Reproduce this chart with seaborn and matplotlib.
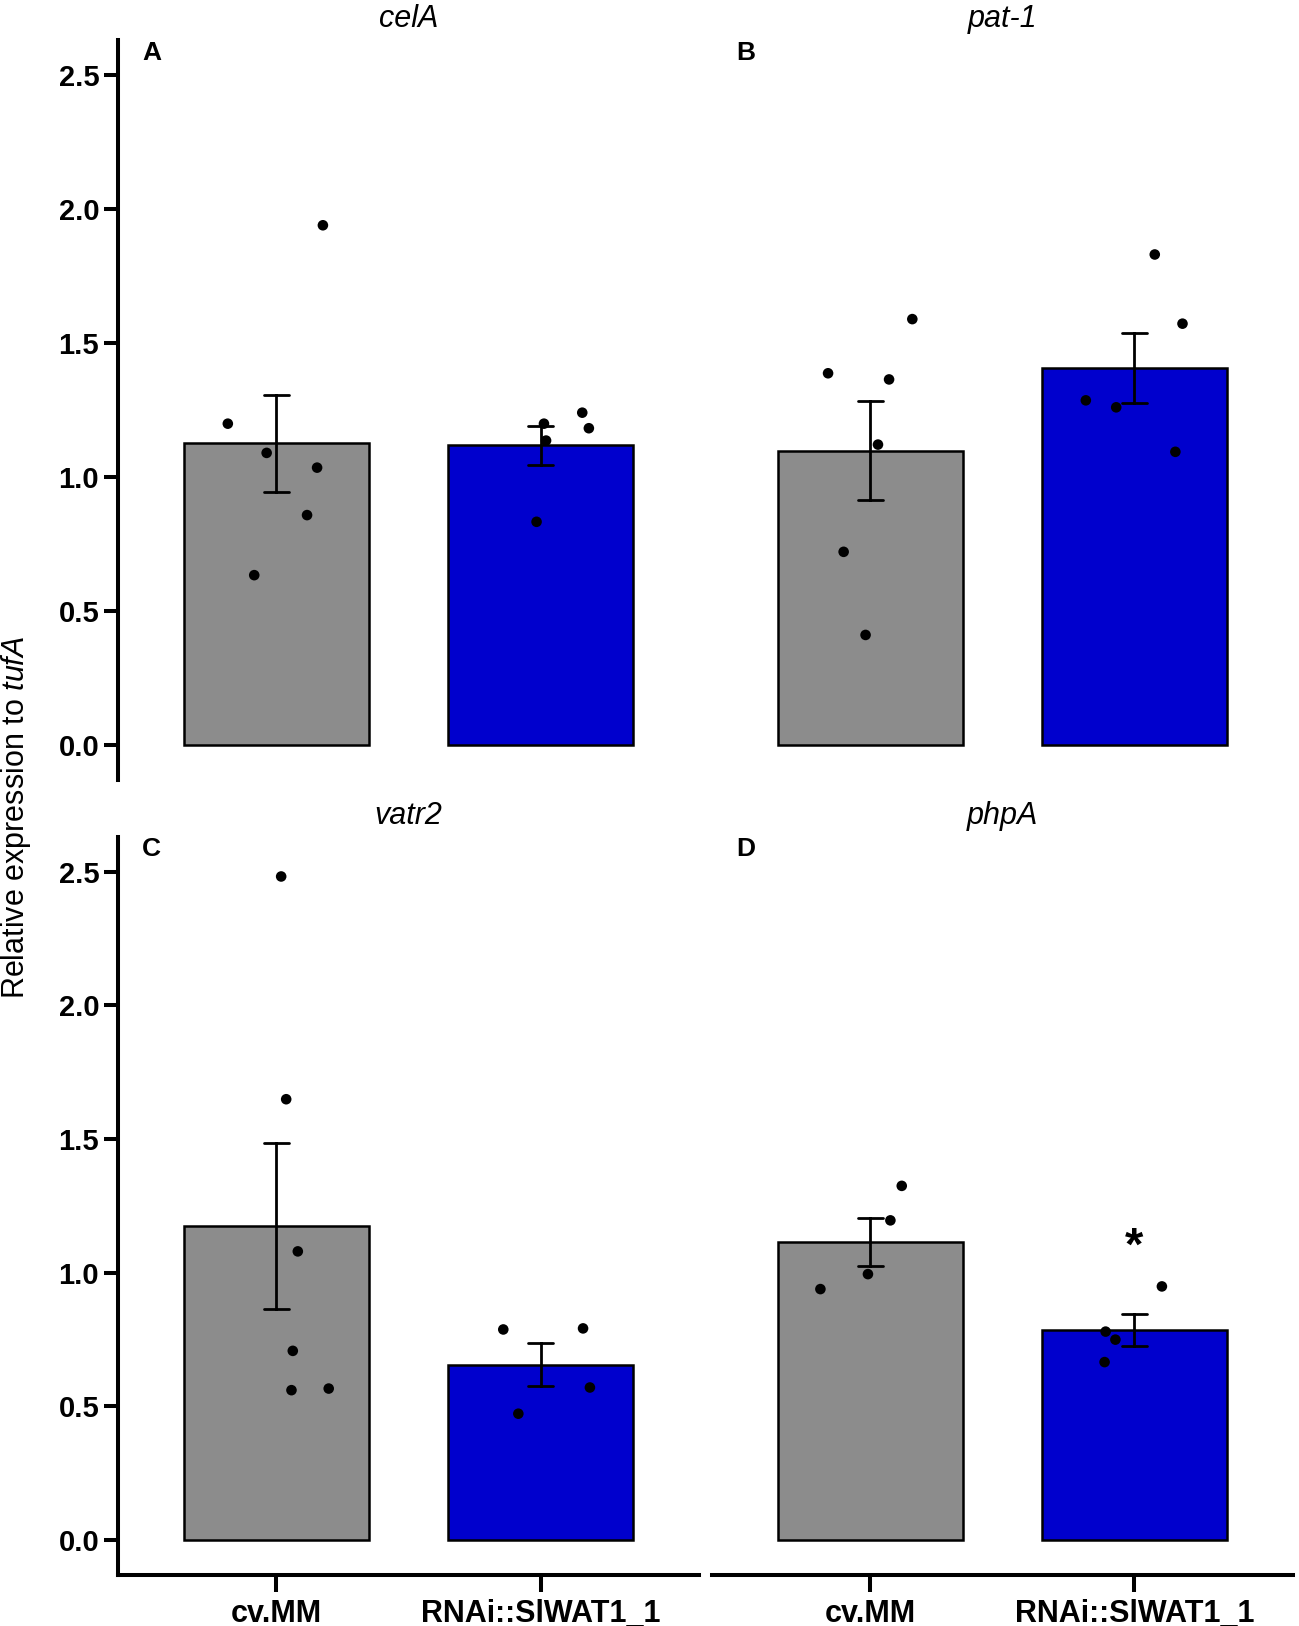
import numpy as np
import pandas as pd
import matplotlib
matplotlib.use("Agg")
import matplotlib.pyplot as plt
import seaborn as sns

# genes / panels
genes = ["celA", "pat-1", "vatr2", "phpA"]
letters = ["A", "B", "C", "D"]
groups = ["cv.MM", "RNAi::SlWAT1_1"]

# individual values (relative expression to tufA)
celA_mm = [1.199, 1.090, 1.035, 0.858, 0.634, 1.939]
celA_rnai = [1.199, 1.136, 1.240, 1.182, 0.833]
pat1_mm = [1.387, 1.364, 1.589, 1.121, 0.721, 0.411]
pat1_rnai = [1.830, 1.572, 1.286, 1.260, 1.094]
vatr2_mm = [2.482, 1.649, 1.080, 0.708, 0.561, 0.567]
vatr2_rnai = [0.788, 0.792, 0.571, 0.473]
phpA_mm = [0.939, 0.995, 1.196, 1.325]
phpA_rnai = [0.949, 0.780, 0.750, 0.666]

# horizontal scatter of the dots around the bar centre
celA_mm_dx = [-0.184, -0.037, 0.154, 0.116, -0.084, 0.176]
celA_rnai_dx = [0.013, 0.021, 0.158, 0.183, -0.015]
pat1_mm_dx = [-0.160, 0.071, 0.159, 0.029, -0.101, -0.018]
pat1_rnai_dx = [0.077, 0.182, -0.184, -0.069, 0.155]
vatr2_mm_dx = [0.018, 0.037, 0.081, 0.062, 0.057, 0.198]
vatr2_rnai_dx = [-0.141, 0.161, 0.187, -0.084]
phpA_mm_dx = [-0.189, -0.009, 0.076, 0.119]
phpA_rnai_dx = [0.104, -0.109, -0.072, -0.113]

# significance marks: (gene, group, y)
stars = [("phpA", "RNAi::SlWAT1_1", 1.095)]

values = {
    "celA": (celA_mm, celA_rnai, celA_mm_dx, celA_rnai_dx),
    "pat-1": (pat1_mm, pat1_rnai, pat1_mm_dx, pat1_rnai_dx),
    "vatr2": (vatr2_mm, vatr2_rnai, vatr2_mm_dx, vatr2_rnai_dx),
    "phpA": (phpA_mm, phpA_rnai, phpA_mm_dx, phpA_rnai_dx),
}

rows = []
for g in genes:
    mm, rn, mmdx, rndx = values[g]
    for v, d in zip(mm, mmdx):
        rows.append({"gene": g, "group": groups[0], "value": v, "dx": d})
    for v, d in zip(rn, rndx):
        rows.append({"gene": g, "group": groups[1], "value": v, "dx": d})
df = pd.DataFrame(rows)
df["xpos"] = df["group"].map({groups[0]: 0, groups[1]: 1}) + df["dx"]

sns.set_style("ticks", {"axes.edgecolor": "0", "xtick.color": "0", "ytick.color": "0",
                        "text.color": "0", "axes.labelcolor": "0"})
plt.rcParams["font.family"] = ["Liberation Sans", "DejaVu Sans"]
plt.rcParams["mathtext.fontset"] = "custom"
plt.rcParams["mathtext.rm"] = "Liberation Sans"
plt.rcParams["mathtext.it"] = "Liberation Sans:italic"

pal = {groups[0]: "#8c8c8c", groups[1]: "#0000cd"}
fs = 21
lw = 2.9

fig = plt.figure(figsize=(12.99, 16.26), dpi=100)
pos = [
    [0.0908, 0.5203, 0.4473, 0.4551],
    [0.548, 0.5203, 0.4473, 0.4551],
    [0.0908, 0.0314, 0.4473, 0.4539],
    [0.548, 0.0314, 0.4473, 0.4539],
]

for i, g in enumerate(genes):
    ax = fig.add_axes(pos[i])
    sub = df[df["gene"] == g]
    sns.barplot(data=sub, x="group", y="value", hue="group", order=groups,
                hue_order=groups, palette=pal, legend=False, width=0.7,
                errorbar="se", capsize=0.095, edgecolor="black", linewidth=1.8,
                err_kws={"color": "black", "linewidth": 2.0}, saturation=1, ax=ax)
    sns.scatterplot(data=sub, x="xpos", y="value", color="black", s=58,
                    edgecolor="none", zorder=5, ax=ax)
    ax.set_xlim(-0.6, 1.6)
    ax.set_ylim(-0.13, 2.63)
    ax.set_yticks([0, 0.5, 1.0, 1.5, 2.0, 2.5])
    ax.set_yticklabels(["0.0", "0.5", "1.0", "1.5", "2.0", "2.5"])
    ax.set_xlabel("")
    ax.set_ylabel("")
    ax.set_title(g, fontstyle="italic", fontsize=22, pad=9)
    ax.text(0.058, 0.983, letters[i], transform=ax.transAxes, fontsize=19,
            fontweight="bold", ha="center", va="center")

    for sp in ["top", "right"]:
        ax.spines[sp].set_visible(False)
    for sp in ["left", "bottom"]:
        ax.spines[sp].set_linewidth(lw)
    ax.tick_params(width=lw, length=10, labelsize=fs, colors="black")
    for t in ax.get_yticklabels() + ax.get_xticklabels():
        t.set_fontweight("bold")

    if i % 2 == 1:
        ax.spines["left"].set_visible(False)
        ax.tick_params(axis="y", left=False, labelleft=False)
    if i < 2:
        ax.spines["bottom"].set_visible(False)
        ax.tick_params(axis="x", bottom=False, labelbottom=False)
    else:
        ax.set_xticks([0, 1])
        ax.set_xticklabels(groups, fontweight="bold", fontsize=22)
        ax.tick_params(axis="x", length=12, pad=5)

    for sg, sgrp, sy in stars:
        if sg == g:
            ax.text(groups.index(sgrp), sy, "*", ha="center", va="center",
                    fontsize=34, fontweight="bold")

fig.text(0.012, 0.497, "Relative expression to $\\it{tufA}$", rotation=90,
         fontsize=22, ha="center", va="center")

fig.savefig("out.png", dpi=100)
